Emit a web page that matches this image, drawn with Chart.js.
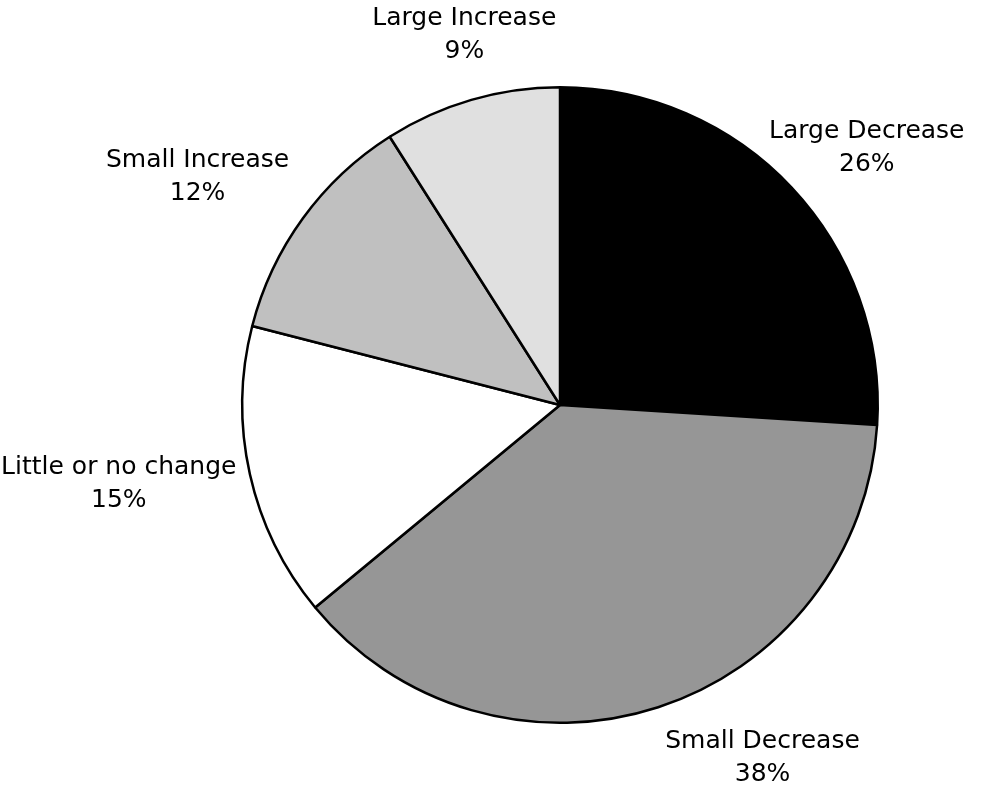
<!DOCTYPE html>
<html>
<head>
<meta charset="utf-8">
<script src="https://cdn.jsdelivr.net/npm/chart.js@4/dist/chart.umd.min.js"></script>
<style>
  html, body { margin: 0; padding: 0; background: #fff; }
  #wrap { width: 1000px; height: 787px; position: relative; }
</style>
</head>
<body>
<div id="wrap"><canvas id="c" width="1000" height="787"></canvas></div>
<script>
const categories = ["Large Decrease", "Small Decrease", "Little or no change", "Small Increase", "Large Increase"];
const values = [26, 38, 15, 12, 9];
const percentLabels = ["26%", "38%", "15%", "12%", "9%"];
const sliceColors = ["#000000", "#969696", "#ffffff", "#c0c0c0", "#e0e0e0"];

const labelPlugin = {
  id: 'outsideLabels',
  afterDatasetsDraw(chart, args, opts) {
    const ctx = chart.ctx;
    const meta = chart.getDatasetMeta(0);
    ctx.save();
    ctx.font = opts.font;
    ctx.fillStyle = '#000';
    ctx.textAlign = 'center';
    ctx.textBaseline = 'middle';
    meta.data.forEach((arc, i) => {
      const p = arc.getProps(['x', 'y', 'startAngle', 'endAngle', 'outerRadius'], true);
      const mid = (p.startAngle + p.endAngle) / 2;
      const cos = Math.cos(mid), sin = Math.sin(mid);
      const l1 = categories[i], l2 = percentLabels[i];
      const w = Math.max(ctx.measureText(l1).width, ctx.measureText(l2).width);
      const h = opts.lineHeight * 2;
      const r = p.outerRadius + opts.gap;
      const n = opts.nudge[i] || [0, 0];
      const cx = p.x + cos * r + cos * w / 2 + n[0];
      const cy = p.y + sin * r + sin * h / 2 + n[1];
      ctx.fillText(l1, cx, cy - opts.lineHeight / 2);
      ctx.fillText(l2, cx, cy + opts.lineHeight / 2);
    });
    ctx.restore();
  }
};

new Chart(document.getElementById('c'), {
  type: 'pie',
  data: {
    labels: categories,
    datasets: [{
      data: values,
      backgroundColor: sliceColors,
      borderColor: '#000000',
      borderWidth: 2.5
    }]
  },
  options: {
    responsive: false,
    animation: false,
    events: [],
    layout: { padding: { left: 241, right: 121, top: 86, bottom: 63 } },
    plugins: {
      legend: { display: false },
      tooltip: { enabled: false },
      outsideLabels: {
        font: '25px "DejaVu Sans"',
        lineHeight: 33,
        gap: 30,
        nudge: [[-18, 4], [65, -9], [13, -4], [-7, -4], [27, -4]]
      }
    }
  },
  plugins: [labelPlugin]
});
</script>
</body>
</html>
